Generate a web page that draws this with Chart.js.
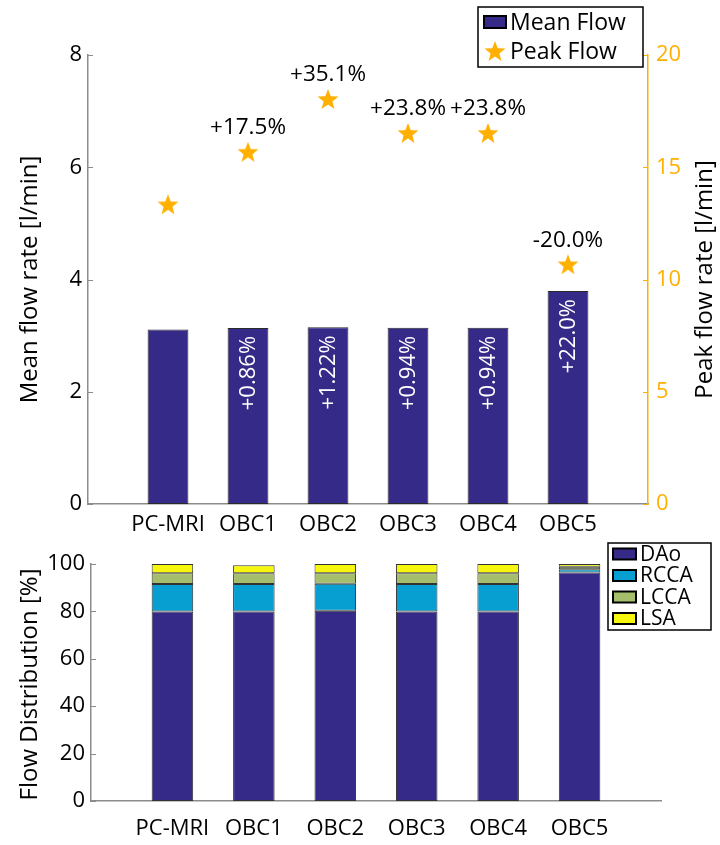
<!DOCTYPE html>
<html>
<head>
<meta charset="utf-8">
<script src="https://cdn.jsdelivr.net/npm/chart.js@4/dist/chart.umd.min.js"></script>
<style>
  html, body { margin: 0; padding: 0; background: #fff; }
  #wrap { position: relative; width: 720px; height: 845px; overflow: hidden; }
  canvas { position: absolute; left: 0; }
  #flowChart { top: 0; }
  #distChart { top: 520px; }
</style>
</head>
<body>
<div id="wrap">
  <canvas id="flowChart" width="720" height="545"></canvas>
  <canvas id="distChart" width="720" height="325"></canvas>
</div>
<script>
// ---- data ----
const categories = ['PC-MRI', 'OBC1', 'OBC2', 'OBC3', 'OBC4', 'OBC5'];
const meanFlow   = [3.11, 3.137, 3.148, 3.139, 3.139, 3.794];   // l/min
const peakFlow   = [13.35, 15.69, 18.04, 16.53, 16.53, 10.68];  // l/min
const meanChange = ['', '+0.86%', '+1.22%', '+0.94%', '+0.94%', '+22.0%'];
const peakChange = ['', '+17.5%', '+35.1%', '+23.8%', '+23.8%', '-20.0%'];
const meanTicks  = [0, 2, 4, 6, 8];
const peakTicks  = [0, 5, 10, 15, 20];

const distDAo  = [80.0, 80.0, 80.3, 80.0, 80.0, 96.4];  // %
const distRCCA = [11.6, 11.6, 11.4, 11.6, 11.6, 1.4];
const distLCCA = [4.5, 4.5, 4.4, 4.5, 4.5, 1.0];
const distLSA  = [3.9, 3.4, 3.9, 3.9, 3.9, 1.2];
const distTicks = [0, 20, 40, 60, 80, 100];

// ---- styling ----
const FONT = "'Open Sans', 'DejaVu Sans', sans-serif";
const NAVY = '#352A87';
const ORANGE = '#FFB000';
const AXIS_GRAY = '#8C8C8C';
const SEG_COLORS = { DAo: '#352A87', RCCA: '#079FD2', LCCA: '#A5BE6B', LSA: '#F7F70E' };

// one empty slot at each end so the categories sit at 1..6 on a 0..7 axis
const axisLabels = ['', ...categories, ''];
const pad = arr => [null, ...arr, null];

function starImage(color, r) {
  const size = Math.ceil(r * 2 + 2);
  const c = document.createElement('canvas');
  c.width = size; c.height = size;
  const g = c.getContext('2d');
  const cx = size / 2, cy = size / 2 + 1, ri = r * 0.42;
  g.beginPath();
  for (let k = 0; k < 10; k++) {
    const rad = k % 2 === 0 ? r : ri;
    const a = -Math.PI / 2 + k * Math.PI / 5;
    const px = cx + rad * Math.cos(a), py = cy + rad * Math.sin(a);
    k === 0 ? g.moveTo(px, py) : g.lineTo(px, py);
  }
  g.closePath();
  g.fillStyle = color;
  g.fill();
  return c;
}
const STAR = starImage(ORANGE, 11);

// small tick marks pointing into the plot area
const inwardTicks = {
  id: 'inwardTicks',
  afterDraw(chart, args, opts) {
    const ctx = chart.ctx, area = chart.chartArea;
    (opts.axes || []).forEach(a => {
      const s = chart.scales[a.id];
      const x0 = a.side === 'left' ? area.left : area.right;
      const dir = a.side === 'left' ? 1 : -1;
      ctx.save();
      ctx.strokeStyle = a.color;
      ctx.lineWidth = 1;
      s.ticks.forEach((t, i) => {
        const y = Math.round(s.getPixelForTick(i)) + 0.5;
        ctx.beginPath();
        ctx.moveTo(x0, y);
        ctx.lineTo(x0 + dir * 5, y);
        ctx.stroke();
      });
      ctx.restore();
    });
  }
};

function drawVerticalText(ctx, text, x, y, font, color) {
  ctx.save();
  ctx.translate(x, y);
  ctx.rotate(-Math.PI / 2);
  ctx.font = font;
  ctx.fillStyle = color;
  ctx.textAlign = 'center';
  ctx.textBaseline = 'middle';
  ctx.fillText(text, 0, 0);
  ctx.restore();
}

function drawLegendBox(ctx, box, rows, font) {
  ctx.save();
  ctx.fillStyle = '#fff';
  ctx.fillRect(box.x, box.y, box.w, box.h);
  ctx.strokeStyle = '#000';
  ctx.lineWidth = 1.5;
  ctx.strokeRect(box.x, box.y, box.w, box.h);
  ctx.font = font;
  ctx.textBaseline = 'middle';
  ctx.textAlign = 'left';
  rows.forEach((r, i) => {
    const cy = box.y + box.first + i * box.step;
    if (r.star) {
      ctx.drawImage(r.star, box.sx + box.sw / 2 - r.star.width / 2, cy - r.star.height / 2);
    } else {
      ctx.fillStyle = r.color;
      ctx.fillRect(box.sx, cy - box.sh / 2, box.sw, box.sh);
      ctx.strokeStyle = '#000';
      ctx.lineWidth = 2;
      ctx.strokeRect(box.sx, cy - box.sh / 2, box.sw, box.sh);
    }
    ctx.fillStyle = '#000';
    ctx.fillText(r.text, box.tx, cy + 1);
  });
  ctx.restore();
}

// ---- upper chart: mean and peak flow ----
const flowDecor = {
  id: 'flowDecor',
  afterDraw(chart) {
    const ctx = chart.ctx, area = chart.chartArea;
    const midY = (area.top + area.bottom) / 2;
    drawVerticalText(ctx, 'Mean flow rate [l/min]', 30, midY, `24px ${FONT}`, '#000');
    drawVerticalText(ctx, 'Peak flow rate [l/min]', 705, midY, `24px ${FONT}`, '#000');

    // rotated change labels inside the mean-flow bars
    const bars = chart.getDatasetMeta(0).data;
    ctx.save();
    ctx.font = `22px ${FONT}`;
    ctx.fillStyle = '#fff';
    ctx.textAlign = 'right';
    ctx.textBaseline = 'middle';
    meanChange.forEach((txt, i) => {
      const el = bars[i + 1];
      if (!txt || !el) return;
      ctx.save();
      ctx.translate(el.x + 1, el.y + 8);
      ctx.rotate(-Math.PI / 2);
      ctx.fillText(txt, 0, 0);
      ctx.restore();
    });
    ctx.restore();

    // change labels above the peak-flow stars
    const pts = chart.getDatasetMeta(1).data;
    ctx.save();
    ctx.font = `22.5px ${FONT}`;
    ctx.fillStyle = '#000';
    ctx.textAlign = 'center';
    ctx.textBaseline = 'middle';
    peakChange.forEach((txt, i) => {
      const el = pts[i + 1];
      if (!txt || !el) return;
      ctx.fillText(txt, el.x, el.y - 24);
    });
    ctx.restore();

    drawLegendBox(ctx,
      { x: 478, y: 7, w: 165, h: 60, first: 15, step: 29, sx: 484, sw: 22, sh: 12, tx: 510 },
      [{ text: 'Mean Flow', color: NAVY }, { text: 'Peak Flow', star: STAR }],
      `23px ${FONT}`);
  }
};

new Chart(document.getElementById('flowChart'), {
  type: 'bar',
  data: {
    labels: axisLabels,
    datasets: [
      {
        label: 'Mean Flow',
        data: pad(meanFlow),
        backgroundColor: NAVY,
        borderColor: '#2a2a2a',
        borderWidth: 1,
        borderSkipped: false,
        barPercentage: 0.51,
        categoryPercentage: 1,
        yAxisID: 'y'
      },
      {
        type: 'line',
        label: 'Peak Flow',
        data: pad(peakFlow),
        showLine: false,
        pointStyle: STAR,
        yAxisID: 'y2'
      }
    ]
  },
  options: {
    responsive: false,
    animation: false,
    layout: { padding: { top: 55, left: 0, right: 0, bottom: 0 } },
    plugins: {
      legend: { display: false },
      tooltip: { enabled: false },
      inwardTicks: { axes: [
        { id: 'y', side: 'left', color: AXIS_GRAY },
        { id: 'y2', side: 'right', color: ORANGE }
      ] }
    },
    scales: {
      x: {
        offset: false,
        grid: { display: false, drawTicks: false },
        border: { display: true, color: AXIS_GRAY, width: 1.5 },
        ticks: { color: '#000', font: { family: FONT, size: 22 }, padding: 8, autoSkip: false, maxRotation: 0 },
        afterFit: s => { s.height = 41; }
      },
      y: {
        position: 'left',
        min: 0, max: 8,
        afterBuildTicks: s => { s.ticks = meanTicks.map(v => ({ value: v })); },
        grid: { display: false, drawTicks: false },
        border: { display: true, color: AXIS_GRAY, width: 1.5 },
        ticks: { color: '#000', font: { family: FONT, size: 22 }, padding: 6 },
        afterFit: s => { s.width = 88; }
      },
      y2: {
        position: 'right',
        min: 0, max: 20,
        afterBuildTicks: s => { s.ticks = peakTicks.map(v => ({ value: v })); },
        grid: { display: false, drawTicks: false },
        border: { display: true, color: ORANGE, width: 1.5 },
        ticks: { color: ORANGE, font: { family: FONT, size: 22 }, padding: 8 },
        afterFit: s => { s.width = 72; }
      }
    }
  },
  plugins: [inwardTicks, flowDecor]
});

// ---- lower chart: flow distribution ----
const distDecor = {
  id: 'distDecor',
  afterDraw(chart) {
    const ctx = chart.ctx, area = chart.chartArea;
    drawVerticalText(ctx, 'Flow Distribution [%]', 30, (area.top + area.bottom) / 2 + 2, `24px ${FONT}`, '#000');
    drawLegendBox(ctx,
      { x: 608, y: 23, w: 103, h: 87, first: 11, step: 21.5, sx: 613, sw: 23, sh: 11, tx: 640 },
      [
        { text: 'DAo', color: SEG_COLORS.DAo },
        { text: 'RCCA', color: SEG_COLORS.RCCA },
        { text: 'LCCA', color: SEG_COLORS.LCCA },
        { text: 'LSA', color: SEG_COLORS.LSA }
      ],
      `21px ${FONT}`);
  }
};

const segment = (label, values) => ({
  label,
  data: pad(values),
  backgroundColor: SEG_COLORS[label],
  borderColor: '#333',
  borderWidth: 1,
  borderSkipped: false,
  barPercentage: 0.51,
  categoryPercentage: 1
});

new Chart(document.getElementById('distChart'), {
  type: 'bar',
  data: {
    labels: axisLabels,
    datasets: [
      segment('DAo', distDAo),
      segment('RCCA', distRCCA),
      segment('LCCA', distLCCA),
      segment('LSA', distLSA)
    ]
  },
  options: {
    responsive: false,
    animation: false,
    layout: { padding: { top: 44, left: 0, right: 59, bottom: 0 } },
    plugins: {
      legend: { display: false },
      tooltip: { enabled: false },
      inwardTicks: { axes: [{ id: 'y', side: 'left', color: AXIS_GRAY }] }
    },
    scales: {
      x: {
        stacked: true,
        offset: false,
        grid: { display: false, drawTicks: false },
        border: { display: true, color: AXIS_GRAY, width: 1.5 },
        ticks: { color: '#000', font: { family: FONT, size: 22 }, padding: 15, autoSkip: false, maxRotation: 0 },
        afterFit: s => { s.height = 44; }
      },
      y: {
        stacked: true,
        min: 0, max: 100,
        afterBuildTicks: s => { s.ticks = distTicks.map(v => ({ value: v })); },
        grid: { display: false, drawTicks: false },
        border: { display: true, color: AXIS_GRAY, width: 1.5 },
        ticks: { color: '#000', font: { family: FONT, size: 22 }, padding: 6 },
        afterFit: s => { s.width = 91; }
      }
    }
  },
  plugins: [inwardTicks, distDecor]
});
</script>
</body>
</html>
